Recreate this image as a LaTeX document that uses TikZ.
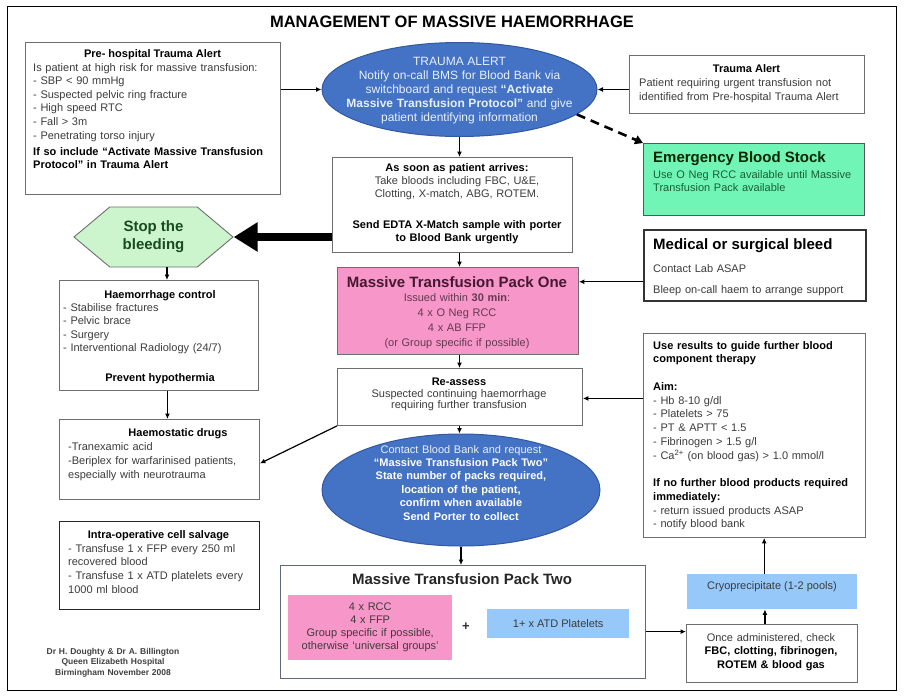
\documentclass[tikz,border=0pt]{standalone}
\usepackage{fontspec}
\setmainfont{Liberation Sans}
\usetikzlibrary{arrows.meta,shapes.geometric,shapes.symbols,calc}
\definecolor{boxgray}{RGB}{110,110,110}
\definecolor{txtgray}{RGB}{60,60,60}
\definecolor{ellblue}{RGB}{68,114,196}
\definecolor{ellborder}{RGB}{50,88,160}
\definecolor{elltext}{RGB}{232,240,252}
\definecolor{pinkfill}{RGB}{247,150,200}
\definecolor{pinkdark}{RGB}{70,25,50}
\definecolor{mint}{RGB}{112,245,182}
\definecolor{mintdark}{RGB}{25,95,55}
\definecolor{hexgreen}{RGB}{205,245,205}
\definecolor{hexdark}{RGB}{25,75,35}
\definecolor{lblue}{RGB}{150,200,250}
\definecolor{m2border}{RGB}{95,105,125}
\newcommand\mybody{\fontsize{11}{13.6}\selectfont}
\newcommand\mytitle{\bfseries\fontsize{15}{17}\selectfont}
\begin{document}
\begin{tikzpicture}[x=1pt,y=-1pt,
  box/.style={draw=boxgray, line width=0.9pt, fill=white, inner sep=0pt, anchor=north west},
  txt/.style={inner sep=0pt, anchor=base west, align=left, font=\mybody, text=txtgray},
  ctxt/.style={inner sep=0pt, anchor=base, align=center, font=\mybody, text=txtgray},
  btitle/.style={inner sep=0pt, anchor=base, font=\mybody\bfseries, text=black},
  arr/.style={line width=1.2pt, -{Latex[length=5.5pt,width=5pt]}},
  bigarr/.style={line width=8pt, -{Triangle[length=24pt,width=28pt]}},
  ell/.style={ellipse, draw=ellborder, line width=1pt, fill=ellblue, inner sep=0pt}
]
\useasboundingbox (0,0) rectangle (904,696);
\draw[line width=0.8pt] (7,6) rectangle (896,690);

% title
\node[font=\bfseries\fontsize{16.5}{18}\selectfont, inner sep=0pt] (title) at (452,22) {MANAGEMENT OF MASSIVE HAEMORRHAGE};

% pre-hospital
\node[box, minimum width=255, minimum height=152] (pre) at (25,42) {};
\node[btitle] (pret) at (152.5,57) {Pre- hospital Trauma Alert};
\node[txt, text width=245] (preb) at (33,71) {Is patient at high risk for  massive transfusion:\\
- SBP < 90 mmHg\\
- Suspected pelvic  ring fracture\\
- High speed RTC\\
- Fall > 3m\\
- Penetrating  torso injury\\[2.4pt]
{\bfseries\color{black}If so include “Activate Massive Transfusion\\ Protocol” in Trauma Alert}};

% trauma alert ellipse
\node[ell, minimum width=275, minimum height=94] (tae) at (459.5,89.5) {};
\node[ctxt, text=elltext, text width=250, font=\fontsize{11}{14}\selectfont] (taet) at (459.5,65) {\fontsize{12}{14}\selectfont TRAUMA  ALERT\\
Notify on-call BMS for Blood Bank via\\
switchboard and request \textbf{“Activate}\\
\textbf{Massive Transfusion Protocol”} and give\\
patient  identifying  information};

% trauma alert right
\node[box, minimum width=235, minimum height=58] (ta2) at (629,55) {};
\node[btitle] (ta2t) at (746.5,72) {Trauma Alert};
\node[txt, text width=222, font=\fontsize{11}{14}\selectfont] (ta2b) at (639,86) {Patient requiring urgent transfusion not\\identified  from Pre-hospital  Trauma Alert};

% emergency blood stock
\node[box, fill=mint, draw=boxgray!80!black, minimum width=221, minimum height=72] (em) at (643,143) {};
\node[inner sep=0pt, anchor=base west, font=\mytitle, text=black!85!green] (emt) at (653,162.5) {Emergency Blood Stock};
\node[txt, text width=205, text=mintdark, font=\fontsize{11}{13}\selectfont] (emb) at (653,178) {Use O Neg RCC available  until Massive\\Transfusion Pack available};

% as soon as
\node[box, minimum width=240, minimum height=95] (soon) at (332,157) {};
\node[ctxt, text width=236, font=\fontsize{11}{13}\selectfont] (soont) at (457,171) {\textbf{\color{black}As soon as patient arrives:}\\
Take bloods including FBC, U\&E,\\
Clotting, X-match, ABG, ROTEM.\\[18pt]
\textbf{\color{black}Send EDTA X-Match sample with porter}\\
\textbf{\color{black}to Blood Bank urgently}};

% stop the bleeding
\node[signal, signal to=east and west, signal pointer angle=80, draw=boxgray, line width=0.9pt, fill=hexgreen, minimum width=159, minimum height=60, inner sep=0pt, align=center, font=\bfseries\fontsize{15}{18}\selectfont, text=hexdark] (stop) at (153.5,237) {Stop the\\bleeding};

% medical or surgical bleed
\node[box, draw=black!80, line width=1.5pt, minimum width=222, minimum height=71] (med) at (643,229) {};
\node[inner sep=0pt, anchor=base west, font=\mytitle, text=black] (medt) at (653,249.5) {Medical or surgical bleed};
\node[txt, text width=205, font=\fontsize{11}{21}\selectfont] (medb) at (653,272) {Contact Lab ASAP\\Bleep on-call  haem to arrange  support};

% MTP one
\node[box, fill=pinkfill, minimum width=241, minimum height=87] (mtp1) at (337,267) {};
\node[inner sep=0pt, anchor=base, font=\mytitle, text=pinkdark] (mtp1t) at (457,287.5) {Massive Transfusion Pack One};
\node[ctxt, text width=230, text=pinkdark!85!white, font=\fontsize{11}{15.3}\selectfont] (mtp1b) at (457,301) {Issued within \textbf{30 min}:\\4 x O Neg RCC\\4 x AB FFP\\(or Group  specific if possible)};

% haemorrhage control
\node[box, minimum width=199, minimum height=110] (hc) at (59,280) {};
\node[btitle] (hct) at (160,298) {Haemorrhage control};
\node[txt, text width=190] (hcb) at (63,311) {- Stabilise fractures\\- Pelvic brace\\- Surgery\\- Interventional  Radiology (24/7)};
\node[btitle] (hcp) at (160,381) {Prevent hypothermia};

% haemostatic drugs
\node[box, minimum width=200, minimum height=80] (hd) at (59,419) {};
\node[btitle] (hdt) at (178,436) {Haemostatic drugs};
\node[txt, text width=188, font=\fontsize{11}{14}\selectfont] (hdb) at (68,450) {-Tranexamic  acid\\-Beriplex for warfarinised patients,\\especially with neurotrauma};

% intra-operative
\node[box, draw=black!85, line width=1.4pt, minimum width=200, minimum height=88] (io) at (59,521) {};
\node[btitle] (iot) at (158.5,538) {Intra-operative cell salvage};
\node[txt, text width=188, font=\fontsize{11}{13.7}\selectfont] (iob) at (68,552) {- Transfuse 1 x FFP every 250 ml\\recovered blood\\- Transfuse 1 x ATD platelets every\\1000 ml blood};

% credits
\node[ctxt, text width=180, font=\bfseries\fontsize{8.5}{10.5}\selectfont, text=black!75] (cred) at (113,654) {Dr H. Doughty \& Dr A. Billington\\Queen Elizabeth Hospital\\Birmingham  November 2008};

% re-assess
\node[box, minimum width=245, minimum height=57] (re) at (337,368) {};
\node[btitle] (ret) at (459,385) {Re-assess};
\node[ctxt, text width=235, font=\fontsize{11}{11.5}\selectfont] (reb) at (459,397) {Suspected continuing  haemorrhage\\requiring further transfusion};

% use results
\node[box, minimum width=222, minimum height=204] (ur) at (643,333) {};
\node[txt, text width=210, font=\fontsize{11}{13.75}\selectfont] (urb) at (653,349) {{\bfseries\color{black}Use results to guide further blood\\component therapy}\\[13.75pt]
{\bfseries\color{black}Aim:}\\
- Hb 8-10 g/dl\\
- Platelets  > 75\\
- PT \& APTT < 1.5\\
- Fibrinogen  > 1.5 g/l\\
- Ca\textsuperscript{2+} (on blood  gas) > 1.0 mmol/l\\[13.75pt]
{\bfseries\color{black}If no further  blood products required\\immediately:}\\
- return issued products ASAP\\
- notify blood bank};

% ellipse 2
\node[ell, minimum width=278, minimum height=112] (e2) at (461,490) {};
\node[ctxt, text=white, text width=260, font=\bfseries\fontsize{11}{13.4}\selectfont] (e2t) at (461,453) {{\mdseries\color{elltext}Contact  Blood Bank and request}\\
“Massive Transfusion Pack Two”\\
State number of packs required,\\
location of the patient,\\
confirm when available\\
Send Porter to collect};

% MTP two
\node[box, draw=m2border, line width=1.2pt, minimum width=365, minimum height=113] (m2) at (280,565) {};
\node[inner sep=0pt, anchor=base, font=\mytitle, text=black!85] (m2t) at (462,584.5) {Massive Transfusion Pack Two};
\node[fill=pinkfill, minimum width=164, minimum height=65, anchor=north west, inner sep=0pt, align=center, text width=160, font=\fontsize{11}{13}\selectfont, text=txtgray] (m2a) at (288,595) {4 x RCC\\4 x FFP\\Group specific if possible,\\otherwise ‘universal groups’};
\node[inner sep=0pt, font=\bfseries\fontsize{13}{13}\selectfont, text=black!80] (plus) at (466,627) {+};
\node[fill=lblue, minimum width=142, minimum height=29, anchor=north west, inner sep=0pt, font=\mybody, text=txtgray] (atd) at (487,609) {1+ x ATD Platelets};

% cryo
\node[fill=lblue, minimum width=170, minimum height=35, anchor=north west, inner sep=0pt] (cryo) at (687,574) {};
\node[ctxt] (cryot) at (772,589) {Cryoprecipitate  (1-2 pools)};

% once administered
\node[box, minimum width=171, minimum height=58] (oa) at (686,624) {};
\node[ctxt, text width=165, font=\fontsize{11}{13.5}\selectfont] (oat) at (771,641) {Once administered, check\\\textbf{\color{black}FBC, clotting, fibrinogen,}\\\textbf{\color{black}ROTEM \& blood gas}};

% connectors
\draw[arr] (pre.east |- tae.west) -- (tae.west);
\draw[arr] (ta2.west |- tae.east) -- (tae.east);
\draw[line width=2.6pt, dash pattern=on 9pt off 6pt, -{Triangle[length=8pt,width=9pt]}] (tae.-12) -- (em.north west);
\draw[arr] (tae.south) -- (tae.south |- soon.north);
\draw[bigarr] (soon.west |- stop.east) -- (stop.east);
\draw[arr] (soon.south -| tae.south) -- (tae.south |- mtp1.north);
\draw[arr] ([yshift=-16.5pt]med.west) -- ([yshift=-16.5pt]med.west -| mtp1.east);
\draw[arr] ([xshift=13.5pt]stop.south) -- ([xshift=13.5pt]stop.south |- hc.north);
\draw[arr] ([xshift=8.5pt]hc.south) -- ([xshift=8.5pt]hc.south |- hd.north);
\draw[arr] (mtp1.south -| tae.south) -- (tae.south |- re.north);
\draw[arr] ([yshift=37pt]ur.west) -- ([yshift=37pt]ur.west -| re.east);
\draw[arr] (re.south west) -- ([yshift=-4pt]hd.east);
\draw[arr] (re.south -| tae.south) -- (tae.south |- e2.north);
\draw[arr] (e2.south) -- (e2.south |- m2.north);
\draw[arr] ([yshift=-9.5pt]m2.east) -- ([yshift=-9.5pt]m2.east -| oa.west);
\draw[arr] ([xshift=-7pt]oa.north) -- ([xshift=-7pt]oa.north |- cryo.south);
\draw[arr] ([xshift=-8pt]cryo.north) -- ([xshift=-8pt]cryo.north |- ur.south);
\end{tikzpicture}
\end{document}
